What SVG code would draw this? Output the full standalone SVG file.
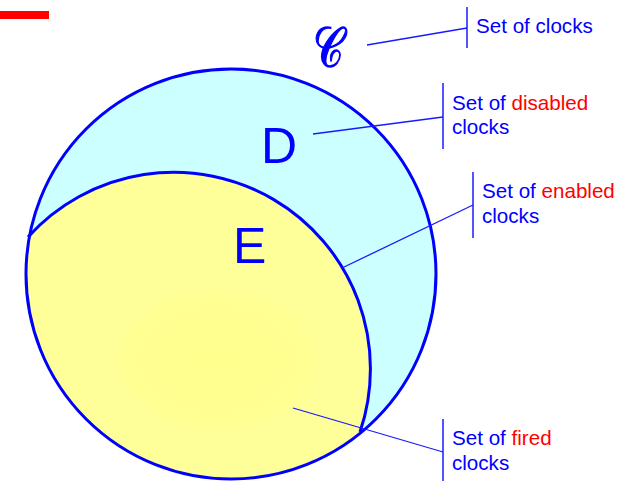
<svg xmlns="http://www.w3.org/2000/svg" width="626" height="481" viewBox="0 0 626 481">
<style>
.lbl{font-family:"Liberation Sans",Arial,sans-serif;font-size:20.6px;fill:#0000ff}
.red{fill:#ff0000}
.big{font-family:"Liberation Sans",Arial,sans-serif;font-size:50px;fill:#0000ff}
.lead{stroke:#1a1aff;stroke-width:1.3;fill:none}
.bar{stroke:#1a1aff;stroke-width:1.5;fill:none}
.edge{stroke:#0000ff;stroke-width:3;fill:none}
</style>
<defs>
<radialGradient id="fg" cx="0.5" cy="0.5" r="0.5">
<stop offset="0" stop-color="#ffff8e"/>
<stop offset="0.85" stop-color="#ffff92"/>
<stop offset="1" stop-color="#ffff99"/>
</radialGradient>
</defs>
<rect x="0" y="11" width="49" height="8" fill="#ff0000"/>
<g id="node-C">
<text transform="translate(313,67) scale(0.75,1)" x="0" y="0" font-family="DejaVu Serif,serif" font-size="56" fill="#0000ff" stroke="#0000ff" stroke-width="1.4">𝒞</text>
</g>
<g id="node-D">
<circle cx="231" cy="274" r="205" fill="#ccffff"/>
<text class="big" x="261" y="163">D</text>
</g>
<g id="node-E">
<path d="M28,237 A196.6,196.6 0 0,1 360,432 A205,205 0 0,1 28,237 Z" fill="#ffff99"/>
<text class="big" x="233" y="263">E</text>
</g>
<g id="node-F">
<ellipse cx="217" cy="360" rx="105" ry="72" fill="url(#fg)"/>
</g>
<g id="outlines">
<path class="edge" d="M28,237 A196.6,196.6 0 0,1 360,432"/>
<circle cx="231" cy="274" r="205" class="edge"/>
</g>
<g id="connectors">
<line class="lead" x1="367" y1="45" x2="467" y2="28"/>
<line class="bar" x1="467" y1="7" x2="467" y2="48"/>
<line class="lead" x1="313" y1="134" x2="443" y2="117"/>
<line class="bar" x1="443" y1="83" x2="443" y2="149"/>
<line class="lead" x1="342" y1="268" x2="473" y2="205"/>
<line class="bar" x1="473" y1="172" x2="473" y2="238"/>
<line class="lead" x1="293" y1="408" x2="443" y2="452"/>
<line class="bar" x1="443" y1="419" x2="443" y2="481"/>
</g>
<g id="labels">
<text class="lbl" x="476" y="33">Set of clocks</text>
<text class="lbl" x="452" y="110">Set of <tspan class="red">disabled</tspan></text>
<text class="lbl" x="452" y="134">clocks</text>
<text class="lbl" x="482" y="198">Set of <tspan class="red">enabled</tspan></text>
<text class="lbl" x="482" y="223">clocks</text>
<text class="lbl" x="452" y="445">Set of <tspan class="red">fired</tspan></text>
<text class="lbl" x="452" y="470">clocks</text>
</g>
</svg>
